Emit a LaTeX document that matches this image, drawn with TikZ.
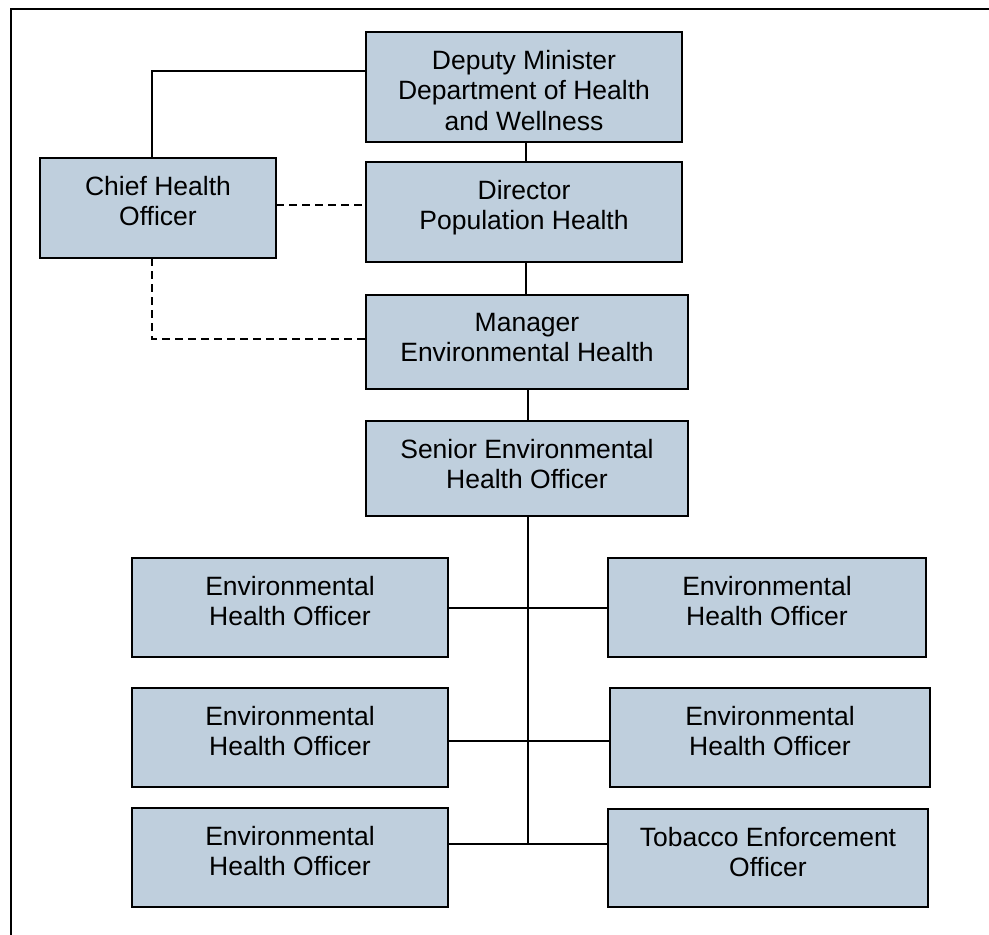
\documentclass[tikz,border=0pt]{standalone}
\usepackage{fontspec}
\setmainfont{Liberation Sans}
\definecolor{boxfill}{RGB}{191,207,221}
\newcommand\ocbox[6]{%
  \node[orgbox, minimum width={(#4-#2)*1pt}, minimum height={(#5-#3)*1pt}] (#1) at ({(#2+#4)/2},{(#3+#5)/2}) {};
  \node[orgtext] (#1-t) at ([yshift=-18pt]#1.north) {#6};
}
\begin{document}
\begin{tikzpicture}[x=1pt,y=-1pt,
  orgbox/.style={draw=black, line width=2pt, fill=boxfill, inner sep=0pt, outer sep=0pt},
  orgtext/.style={anchor=north, align=center, inner sep=0pt, font=\fontsize{26.5}{30.5}\selectfont},
  link/.style={line width=2pt},
  dlink/.style={line width=2pt, dash pattern=on 8pt off 5pt}]
\useasboundingbox (0,0) rectangle (989,935);
% frame
\coordinate (fa) at (1000,9);
\coordinate (fb) at (11,9);
\coordinate (fc) at (11,950);
\draw[line width=2.3pt] (fa) -- (fb) -- (fc);
% boxes
\ocbox{dm}{366}{32}{682}{142}{Deputy Minister\\Department of Health\\and Wellness}
\ocbox{chief}{40}{158}{276}{258}{Chief Health\\Officer}
\ocbox{dir}{366}{162}{682}{262}{Director\\Population Health}
\ocbox{mgr}{366}{295}{688}{389}{Manager\\Environmental Health}
\ocbox{sr}{366}{421}{688}{516}{Senior Environmental\\Health Officer}
\ocbox{la}{132}{558}{448}{657}{Environmental\\Health Officer}
\ocbox{ra}{608}{558}{926}{657}{Environmental\\Health Officer}
\ocbox{lb}{132}{688}{448}{787}{Environmental\\Health Officer}
\ocbox{rb}{610}{688}{930}{787}{Environmental\\Health Officer}
\ocbox{lc}{132}{808}{448}{907}{Environmental\\Health Officer}
\ocbox{tob}{608}{809}{928}{907}{Tobacco Enforcement\\Officer}
% connectors
\coordinate (cx) at (152,0);
\coordinate (tx) at (528,0);
\draw[link] ([yshift=16pt]dm.west) -| (cx |- chief.north);
\draw[link] ([xshift=2pt]dm.south) -- ([xshift=2pt]dm.south |- dir.north);
\draw[link] ([xshift=2pt]dir.south) -- ([xshift=2pt]dir.south |- mgr.north);
\draw[link] (tx |- mgr.south) -- (tx |- sr.north);
\draw[dlink] ([yshift=3pt]chief.east) -- ([yshift=3pt]chief.east -| dir.west);
\draw[dlink] (cx |- chief.south) |- ([yshift=3pt]mgr.west);
\coordinate (trunkend) at (528,844);
\draw[link] (tx |- sr.south) -- (trunkend);
\draw[link] (la.east) -- (ra.west);
\draw[link] ([yshift=-3.5pt]lb.east) -- ([yshift=-3.5pt]lb.east -| rb.west);
\draw[link] ([yshift=13.5pt]lc.east) -- ([yshift=13.5pt]lc.east -| tob.west);
\end{tikzpicture}
\end{document}
